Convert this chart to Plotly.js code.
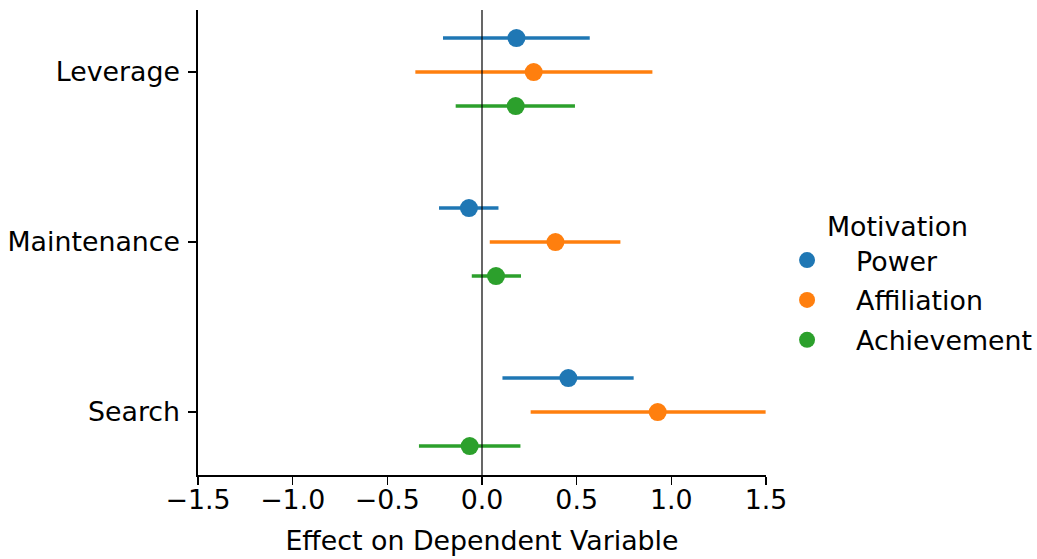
<!DOCTYPE html>
<html>
<head>
<meta charset="utf-8">
<script src="https://cdn.plot.ly/plotly-3.0.1.min.js"></script>
<style>html,body{margin:0;padding:0;background:#fff;}#chart{width:1037px;height:559px;}</style>
</head>
<body>
<div id="chart"></div>
<script>
const categories = ["Leverage", "Maintenance", "Search"];
const seriesNames = ["Power", "Affiliation", "Achievement"];
const seriesColors = ["#1f77b4", "#ff7f0e", "#2ca02c"];

// point estimates
const powerEst = [0.182, -0.069, 0.456];
const affiliationEst = [0.273, 0.388, 0.928];
const achievementEst = [0.178, 0.074, -0.065];
// interval lows
const powerLo = [-0.206, -0.227, 0.108];
const affiliationLo = [-0.352, 0.041, 0.257];
const achievementLo = [-0.139, -0.054, -0.333];
// interval highs
const powerHi = [0.569, 0.087, 0.801];
const affiliationHi = [0.900, 0.731, 1.498];
const achievementHi = [0.491, 0.206, 0.203];

const xTickVals = [-1.5, -1.0, -0.5, 0.0, 0.5, 1.0, 1.5];
const xTickText = ["\u22121.5", "\u22121.0", "\u22120.5", "0.0", "0.5", "1.0", "1.5"];

const est = [powerEst, affiliationEst, achievementEst];
const lo = [powerLo, affiliationLo, achievementLo];
const hi = [powerHi, affiliationHi, achievementHi];

const FONT = "DejaVu Sans, sans-serif";
const FS = 26.8;

const traces = seriesNames.map((name, i) => ({
  type: "scatter",
  mode: "markers",
  orientation: "h",
  name: name,
  legendgroup: name,
  x: est[i],
  y: categories,
  marker: {color: seriesColors[i], size: 18},
  error_x: {
    type: "data",
    symmetric: false,
    array: est[i].map((v, k) => hi[i][k] - v),
    arrayminus: est[i].map((v, k) => v - lo[i][k]),
    color: seriesColors[i],
    thickness: 3.5,
    width: 0
  },
  hoverinfo: "x+y+name"
}));

const layout = {
  width: 1037,
  height: 559,
  margin: {l: 198, r: 271, t: 10, b: 84, autoexpand: false},
  paper_bgcolor: "#fff",
  plot_bgcolor: "#fff",
  font: {family: FONT, size: FS, color: "#000"},
  scattermode: "group",
  scattergap: 0.4,
  showlegend: true,
  xaxis: {
    range: [-1.5, 1.5],
    tickvals: xTickVals,
    ticktext: xTickText,
    showgrid: false,
    zeroline: false,
    showline: true,
    linecolor: "#000",
    linewidth: 1.6,
    ticks: "outside",
    ticklen: 8,
    tickwidth: 1.6,
    tickcolor: "#000",
    ticklabelstandoff: -8,
    tickfont: {family: FONT, size: FS, color: "#000"},
    title: {text: "Effect on Dependent Variable", font: {family: FONT, size: FS, color: "#000"}, standoff: 17}
  },
  yaxis: {
    type: "category",
    categoryorder: "array",
    categoryarray: categories,
    range: [2.37, -0.365],
    showgrid: false,
    zeroline: false,
    showline: true,
    linecolor: "#000",
    linewidth: 1.6,
    ticks: "outside",
    ticklen: 8,
    tickwidth: 1.6,
    tickcolor: "#000",
    ticklabelstandoff: 3,
    tickfont: {family: FONT, size: FS, color: "#000"}
  },
  shapes: [{
    type: "line", xref: "x", yref: "paper",
    x0: 0, x1: 0, y0: 0, y1: 1,
    line: {color: "#000", width: 1.2},
    layer: "above"
  }],
  legend: {
    x: 0.986, xanchor: "left",
    y: 0.5885, yanchor: "top",
    traceorder: "grouped",
    tracegroupgap: 2,
    itemwidth: 88,
    bgcolor: "rgba(0,0,0,0)",
    font: {family: FONT, size: FS, color: "#000"},
    title: {text: "Motivation", side: "top center", font: {family: FONT, size: FS, color: "#000"}}
  }
};

Plotly.newPlot("chart", traces, layout, {displayModeBar: false, staticPlot: true});
</script>
</body>
</html>
